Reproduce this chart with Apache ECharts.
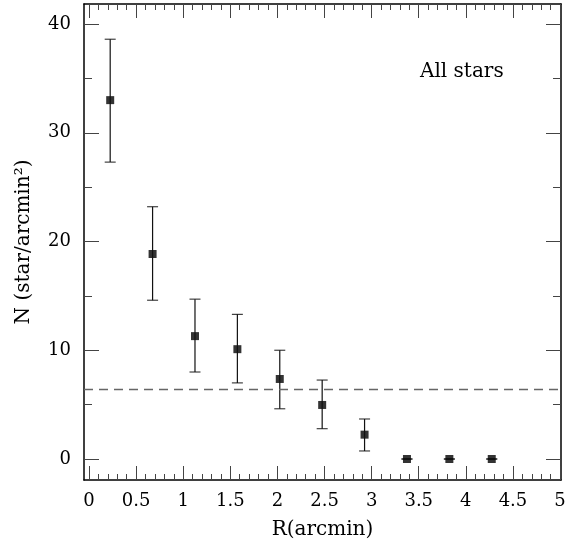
<!DOCTYPE html>
<html>
<head>
<meta charset="utf-8">
<script src="https://cdn.jsdelivr.net/npm/echarts@6/dist/echarts.min.js"></script>
<style>html,body{margin:0;padding:0;background:#fff;}#c{width:574px;height:546px;}</style>
</head>
<body>
<div id="c"></div>
<script>
// Data
var radius = [0.225, 0.675, 1.125, 1.575, 2.025, 2.475, 2.925, 3.375, 3.825, 4.275];
var density = [33.0, 18.85, 11.3, 10.1, 7.36, 4.97, 2.24, 0, 0, 0];
var errLow = [27.3, 14.6, 8.0, 7.0, 4.62, 2.79, 0.74, 0, 0, 0];
var errHigh = [38.6, 23.2, 14.7, 13.3, 10.0, 7.26, 3.68, 0, 0, 0];
var background = 6.44;
var xMajor = [0, 0.5, 1, 1.5, 2, 2.5, 3, 3.5, 4, 4.5, 5];
var xMinor = [];
for (var i = 1; i < 50; i++) { if (i % 5 !== 0) xMinor.push(i / 10); }
var yMajor = [0, 10, 20, 30, 40];
var yMinor = [5, 15, 25, 35];
var xMin = -0.053, xMax = 5.01;
var yMin = -1.93, yMax = 41.84;
var xTitle = 'R(arcmin)';
var yTitle = 'N (star/arcmin²)';
var label = 'All stars';

var FONT = 'DejaVu Serif';
var points = radius.map(function (x, i) { return [x, density[i]]; });
var caps = radius.map(function (x, i) { return [x, errLow[i]]; })
  .concat(radius.map(function (x, i) { return [x, errHigh[i]]; }));

function axisDef(pos, vals, len, withLabel, withLine, isX) {
  return {
    type: 'value', position: pos,
    min: isX ? xMin : yMin, max: isX ? xMax : yMax,
    axisLine: { show: withLine, onZero: false, lineStyle: { color: '#000', width: 1.5 } },
    axisTick: { show: true, inside: true, length: len, customValues: vals, lineStyle: { color: '#444', width: 1 } },
    axisLabel: withLabel ? { show: true, customValues: vals, margin: isX ? 12 : 13, fontFamily: FONT, fontSize: 18, color: '#000' } : { show: false },
    splitLine: { show: false }
  };
}

function build(useAxisNames, useMarkLine) {
  var xs = [
    axisDef('bottom', xMajor, 14, true, true, true),
    axisDef('bottom', xMinor, 6, false, false, true),
    axisDef('top', xMajor, 14, false, true, true),
    axisDef('top', xMinor, 6, false, false, true)
  ];
  var ys = [
    axisDef('left', yMajor, 15, true, true, false),
    axisDef('left', yMinor, 8, false, false, false),
    axisDef('right', yMajor, 15, false, true, false),
    axisDef('right', yMinor, 8, false, false, false)
  ];
  var opt = {
    animation: false,
    backgroundColor: '#fff',
    grid: { left: 84, right: 13, top: 4, bottom: 66 },
    title: [{
      text: label, left: 420, top: 62, padding: 0,
      textStyle: { fontFamily: FONT, fontSize: 20, fontWeight: 'normal', color: '#000' }
    }],
    xAxis: xs,
    yAxis: ys
  };
  if (useAxisNames) {
    xs[0].name = xTitle;
    xs[0].nameLocation = 'middle';
    xs[0].nameGap = 40;
    xs[0].nameTextStyle = { fontFamily: FONT, fontSize: 20, color: '#000' };
    ys[0].name = yTitle;
    ys[0].nameLocation = 'middle';
    ys[0].nameGap = 50;
    ys[0].nameTextStyle = { fontFamily: FONT, fontSize: 20, color: '#000' };
  } else {
    opt.title.push({
      text: xTitle, left: 'center', top: 516, padding: 0,
      textStyle: { fontFamily: FONT, fontSize: 20, fontWeight: 'normal', color: '#000' }
    });
    opt.graphic = [{
      type: 'text', x: 23, y: 242, rotation: Math.PI / 2,
      style: { text: yTitle, fontFamily: FONT, fontSize: 20, fill: '#000', align: 'center', verticalAlign: 'middle' }
    }];
  }
  var series = radius.map(function (x, i) {
    return {
      type: 'line', xAxisIndex: 0, yAxisIndex: 0, silent: true, showSymbol: false,
      data: [[x, errLow[i]], [x, errHigh[i]]],
      lineStyle: { color: '#111', width: 1.2 }
    };
  });
  series.push({
    type: 'scatter', xAxisIndex: 0, yAxisIndex: 0, silent: true, data: caps,
    symbol: 'rect', symbolSize: [11, 1.2], itemStyle: { color: '#111' }
  });
  var pts = {
    type: 'scatter', xAxisIndex: 0, yAxisIndex: 0, data: points,
    symbol: 'rect', symbolSize: 8, itemStyle: { color: '#000' }
  };
  series.push(pts);
  var dash = { color: '#666', type: [9, 6], width: 1.3 };
  if (useMarkLine) {
    pts.markLine = {
      silent: true, symbol: 'none', label: { show: false },
      lineStyle: dash, data: [{ yAxis: background }]
    };
  } else {
    series.push({
      type: 'line', xAxisIndex: 0, yAxisIndex: 0, silent: true, showSymbol: false,
      data: [[xMin, background], [xMax, background]], lineStyle: dash
    });
  }
  opt.series = series;
  return opt;
}

var chart = echarts.init(document.getElementById('c'));

function ticksVisible() {
  try {
    var cv = chart.getZr().painter.getRenderedCanvas({ backgroundColor: '#fff', pixelRatio: 1 });
    var ctx = cv.getContext('2d');
    var yPix = Math.round(chart.convertToPixel({ yAxisIndex: 0 }, yMin)) - 6;
    var dark = 0;
    [1, 2, 3].forEach(function (v) {
      var xp = Math.floor(chart.convertToPixel({ xAxisIndex: 0 }, v));
      var d = ctx.getImageData(xp - 1, yPix, 3, 1).data;
      for (var k = 0; k < 3; k++) { if (d[k * 4] < 180) { dark++; break; } }
    });
    return dark >= 2;
  } catch (e) { return true; }
}

chart.setOption(build(true, true), true);
if (!ticksVisible()) { chart.setOption(build(false, false), true); }
</script>
</body>
</html>
